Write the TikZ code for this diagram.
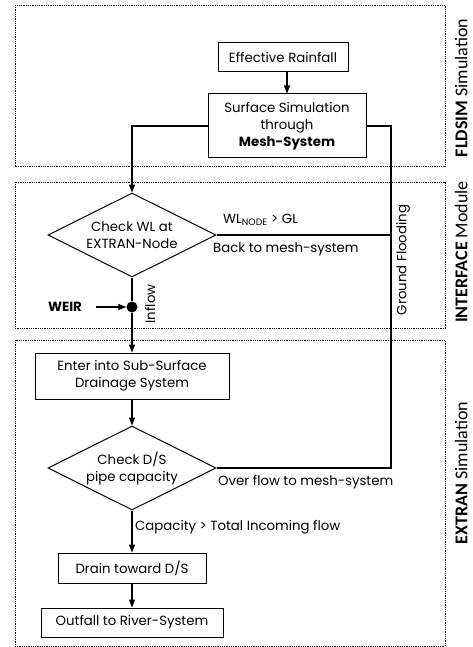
\documentclass[tikz,border=0pt]{standalone}
\usepackage{fontspec}
\setmainfont{Poppins}
\newfontfamily\sidefont{Carlito}
\usetikzlibrary{shapes.geometric,arrows.meta}

\tikzset{
  frame/.style={draw, line width=0.7pt, dash pattern=on 0.9pt off 0.9pt},
  stepbox/.style={draw, line width=1pt, inner sep=0pt, align=center,
                  font=\fontsize{13.3}{17}\selectfont},
  decision/.style={draw, diamond, line width=1pt, inner sep=0pt, aspect=2,
                   minimum width=168pt, minimum height=84pt, align=center,
                   font=\fontsize{13.3}{17}\selectfont},
  flow/.style={line width=1.2pt},
  arr/.style={flow, -{Triangle[length=8pt,width=6pt]}},
  lbl/.style={font=\fontsize{13.3}{15}\selectfont, inner sep=0pt},
  side/.style={rotate=90, anchor=south, text depth=0pt,
               font=\sidefont\fontsize{18}{20}\selectfont, inner sep=0pt},
}

\begin{document}
\begin{tikzpicture}[x=1pt, y=-1pt]
\useasboundingbox (0,0) rectangle (472,647);

% module frames
\draw[frame] (15,5) rectangle (445,166);
\draw[frame] (15,182) rectangle (445,328);
\draw[frame] (15,340) rectangle (445,646);

% module titles (baseline on the right-hand side)
\node[side] (tFld) at (467.5,88) {\textbf{FLDSIM} Simulation};
\node[side] (tInt) at (467.5,252) {\textbf{INTERFACE} Module};
\node[side] (tExt) at (467.5,473) {\textbf{EXTRAN} Simulation};

% process steps
\node[stepbox, minimum width=130pt, minimum height=29pt] (rain) at (283,57.5) {Effective Rainfall};
\node[stepbox, minimum width=158pt, minimum height=64pt] (surf) at (287,126)
  {Surface Simulation\\through\\\textbf{Mesh-System}};
\node[decision] (wl) at (132,235) {Check WL at\\EXTRAN-Node};
\node[circle, fill, inner sep=0pt, minimum size=11pt] (dot) at (132,307) {};
\node[font=\fontsize{13.3}{15}\selectfont\bfseries, inner sep=0pt] (weir) at (65,307) {WEIR};
\node[stepbox, minimum width=194pt, minimum height=46pt] (enter) at (132,376)
  {Enter into Sub-Surface\\Drainage System};
\node[decision] (ds) at (132,468) {Check D/S\\pipe capacity};
\node[stepbox, minimum width=148pt, minimum height=30pt] (drain) at (132,568) {Drain toward D/S};
\node[stepbox, minimum width=182pt, minimum height=29pt] (out) at (132,622.5) {Outfall to River-System};

% return line to the surface mesh
\coordinate (gf) at (391,126);

% connector labels
\node[lbl, anchor=west] (lGL) at (223,220) {WL\textsubscript{NODE} > GL};
\node[lbl, anchor=west] (lBack) at (213,249) {Back to mesh-system};
\node[lbl, anchor=west] (lOver) at (218,482) {Over flow to mesh-system};
\node[lbl, anchor=west] (lCap) at (135,527) {Capacity > Total Incoming flow};
\node[lbl, rotate=90] (lIn) at (150,304) {Inflow};
\node[lbl, rotate=90] (lGF) at (403,260) {Ground Flooding};

% connectors
\draw[arr] (rain.south -| surf.north) -- (surf.north);
\draw[arr] (surf.west) -| (wl.north);
\draw[flow] (surf.east) -- (gf) -- (gf |- ds.east) -- (ds.east);
\draw[flow] (wl.east) -- (wl.east -| gf);
\draw[flow] (wl.south) -- (dot);
\draw[arr] (dot) -- (enter.north);
\draw[arr] (weir.east) ++(14pt,0) -- (dot.west);
\draw[arr] (enter.south) -- (ds.north);
\draw[arr] (ds.south) -- (drain.north);
\draw[arr] (drain.south) -- (out.north);
\end{tikzpicture}
\end{document}
